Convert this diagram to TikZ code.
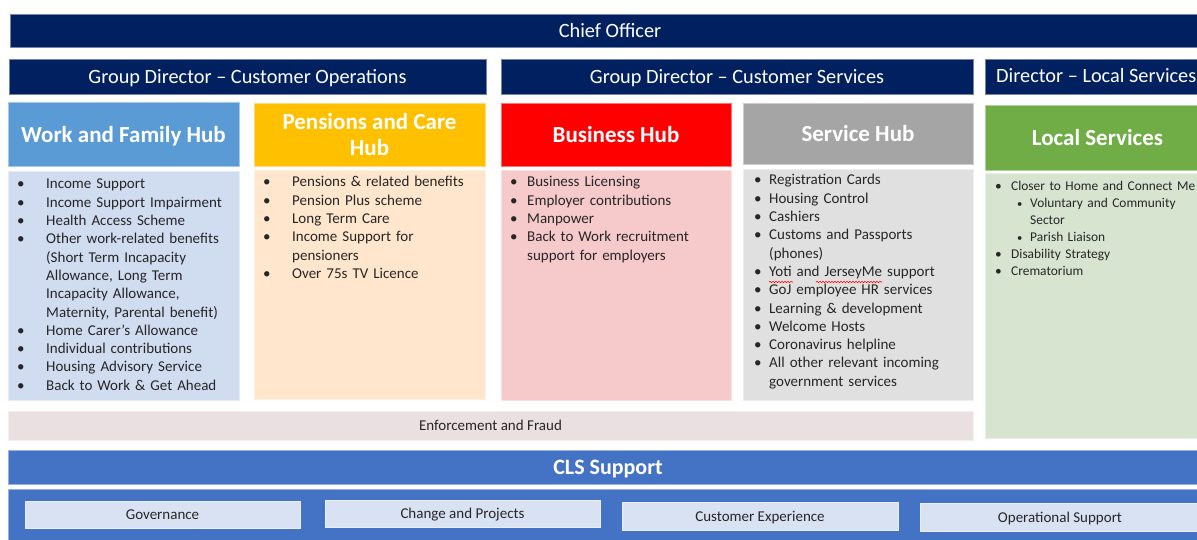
\documentclass[tikz,border=0pt]{standalone}
\usepackage{fontspec}
\setmainfont{Carlito}
\usetikzlibrary{decorations.pathmorphing}
\definecolor{navy}{HTML}{002060}
\definecolor{hubblue}{HTML}{5B9BD5}
\definecolor{hubyellow}{HTML}{FFC000}
\definecolor{hubred}{HTML}{FF0000}
\definecolor{hubgray}{HTML}{A5A5A5}
\definecolor{hubgreen}{HTML}{70AD47}
\definecolor{lblue}{HTML}{D0DCEF}
\definecolor{lpeach}{HTML}{FFE6CC}
\definecolor{lpink}{HTML}{F6C9CB}
\definecolor{lgray}{HTML}{E0E0E0}
\definecolor{lgreen}{HTML}{D7E4D0}
\definecolor{lenf}{HTML}{EBE0E1}
\definecolor{clsblue}{HTML}{4472C4}
\definecolor{subbox}{HTML}{D9E2F3}
\definecolor{txt}{HTML}{262626}
\newcommand\bul[2]{\hangindent=#1\hangafter=1\noindent\makebox[#1][l]{\textbullet}#2\par}
\newcommand\subbul[3]{\hangindent=#2\hangafter=1\noindent\hspace*{#1}\makebox[\dimexpr#2-#1\relax][l]{\scalebox{0.8}{\textbullet}}#3\par}
\tikzset{
  box/.style={anchor=north west, inner sep=0pt, outer sep=0pt, draw=#1!55!white, line width=0.8bp, fill=#1},
  bartext/.style={text=white, text depth=0pt, font=\fontsize{20.3bp}{24bp}\selectfont},
  hubtext/.style={text=white, font=\bfseries\fontsize{23bp}{26bp}\selectfont, align=center},
  listtxt/.style={anchor=base west, inner sep=0pt, text width=#1, text=txt, font=\fontsize{15bp}{18.3bp}\selectfont},
  smalltxt/.style={text=txt, text depth=0pt, font=\fontsize{15bp}{18bp}\selectfont},
  squiggle/.style={draw=red, line width=0.6bp, decorate, decoration={snake, amplitude=0.7bp, segment length=3bp}}
}
\begin{document}
\begin{tikzpicture}[x=1bp,y=-1bp]
\useasboundingbox (0,0) rectangle (1197,540);
\fill[white] (0,0) rectangle (1197,540);
% Chief officer
\node[box=navy, minimum width=1200bp, minimum height=33bp, bartext] (chief) at (10,14) {Chief Officer};
% Directors
\node[box=navy, minimum width=477bp, minimum height=35bp, bartext] (gdco) at (9,59) {Group Director -- Customer Operations};
\node[box=navy, minimum width=472bp, minimum height=35bp, bartext] (gdcs) at (501,59) {Group Director -- Customer Services};
\node[box=navy, minimum width=225bp, minimum height=35bp] (dls) at (985,59) {};
\node[anchor=base west, inner sep=0pt, bartext] (dlstext) at (996,83) {Director -- Local Services};
% Hub headers
\node[box=hubblue, minimum width=231bp, minimum height=64bp, hubtext, text depth=0pt] (wfh) at (8,102) {Work and Family Hub};
\node[box=hubyellow, minimum width=231bp, minimum height=63bp, hubtext] (pch) at (254,103) {Pensions and Care\\Hub};
\node[box=hubred, minimum width=230bp, minimum height=63bp, hubtext, text depth=0pt] (bh) at (501,103) {Business Hub};
\node[box=hubgray, minimum width=230bp, minimum height=61bp, hubtext, text depth=0pt] (sh) at (743,103) {Service Hub};
\node[box=hubgreen, minimum width=225bp, minimum height=65bp, hubtext, text depth=0pt] (ls) at (985,105) {Local Services};
% List backgrounds
\node[box=lblue, minimum width=231bp, minimum height=229bp] (wfl) at (8,171) {};
\node[box=lpeach, minimum width=231bp, minimum height=229bp] (pcl) at (254,170) {};
\node[box=lpink, minimum width=230bp, minimum height=230bp] (bl) at (501,170) {};
\node[box=lgray, minimum width=230bp, minimum height=231bp] (sl) at (743,169) {};
\node[box=lgreen, minimum width=225bp, minimum height=265bp] (ll) at (985,173) {};
% Lists
\node[listtxt=215bp] (wftext) at (17,189) {%
\bul{29bp}{Income Support}%
\bul{29bp}{Income Support Impairment}%
\bul{29bp}{Health Access Scheme}%
\bul{29bp}{Other work-related benefits\newline(Short Term Incapacity\newline Allowance, Long Term\newline Incapacity Allowance,\newline Maternity, Parental benefit)}%
\bul{29bp}{Home Carer’s Allowance}%
\bul{29bp}{Individual contributions}%
\bul{29bp}{Housing Advisory Service}%
\bul{29bp}{Back to Work \& Get Ahead}};
\node[listtxt=215bp] (pctext) at (263,187) {%
\bul{29bp}{Pensions \& related benefits}%
\bul{29bp}{Pension Plus scheme}%
\bul{29bp}{Long Term Care}%
\bul{29bp}{Income Support for\newline pensioners}%
\bul{29bp}{Over 75s TV Licence}};
\node[listtxt=215bp] (btext) at (510,187) {%
\bul{17bp}{Business Licensing}%
\bul{17bp}{Employer contributions}%
\bul{17bp}{Manpower}%
\bul{17bp}{Back to Work recruitment\newline support for employers}};
\node[listtxt=215bp] (stext) at (754,185) {%
\bul{15bp}{Registration Cards}%
\bul{15bp}{Housing Control}%
\bul{15bp}{Cashiers}%
\bul{15bp}{Customs and Passports\newline(phones)}%
\bul{15bp}{Yoti and JerseyMe support}%
\bul{15bp}{GoJ employee HR services}%
\bul{15bp}{Learning \& development}%
\bul{15bp}{Welcome Hosts}%
\bul{15bp}{Coronavirus helpline}%
\bul{15bp}{All other relevant incoming\newline government services}};
\node[listtxt=215bp, font=\fontsize{13.4bp}{17bp}\selectfont] (lstext) at (995,190.5) {%
\bul{16bp}{Closer to Home and Connect Me}%
\subbul{22bp}{35bp}{Voluntary and Community\newline Sector}%
\subbul{22bp}{35bp}{Parish Liaison}%
\bul{16bp}{Disability Strategy}%
\bul{16bp}{Crematorium}};
% spell-check squiggles
\coordinate (yotiA) at (769,282); \coordinate (yotiB) at (793,282);
\coordinate (jmA) at (816,282); \coordinate (jmB) at (882,282);
\path[squiggle] (yotiA) -- (yotiB);
\path[squiggle] (jmA) -- (jmB);
% Enforcement and Fraud
\node[box=lenf, minimum width=965bp, minimum height=29bp, smalltxt] (enf) at (8,411) {Enforcement and Fraud};
% CLS Support
\node[box=clsblue, minimum width=1200bp, minimum height=34bp, text=white, text depth=0pt, font=\bfseries\fontsize{22bp}{26bp}\selectfont] (cls) at (8,450) {CLS Support};
\node[box=clsblue, minimum width=1200bp, minimum height=60bp] (clsbar) at (8,489) {};
\node[box=subbox, minimum width=275bp, minimum height=27bp, smalltxt] (gov) at (25,501) {Governance};
\node[box=subbox, minimum width=275bp, minimum height=27bp, smalltxt] (chg) at (325,500) {Change and Projects};
\node[box=subbox, minimum width=276bp, minimum height=28bp, smalltxt] (cx) at (622,502) {Customer Experience};
\node[box=subbox, minimum width=280bp, minimum height=28bp, smalltxt] (ops) at (920,503) {Operational Support};
\end{tikzpicture}
\end{document}
